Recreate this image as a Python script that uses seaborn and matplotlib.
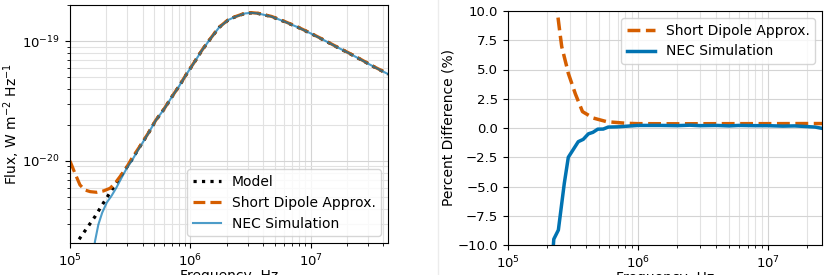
import numpy as np
import pandas as pd
import matplotlib
matplotlib.use("Agg")
import matplotlib.pyplot as plt
from matplotlib.lines import Line2D
import seaborn as sns

# ---------------- Left panel data (flux spectra) ----------------
freq_model = [1.0e5, 1.17e5, 1.38e5, 1.61e5, 1.85e5, 2.15e5, 2.52e5, 2.86e5, 3.25e5,
              3.81e5, 4.47e5, 5.14e5, 6.03e5, 6.98e5, 8.07e5, 9.29e5, 1.08e6, 1.25e6,
              1.47e6, 1.73e6, 2.06e6, 2.34e6, 2.83e6, 3.20e6, 3.65e6, 4.72e6, 6.08e6,
              7.85e6, 9.95e6, 1.28e7, 1.63e7, 2.04e7, 2.64e7, 3.33e7, 4.37e7]
flux_model = [1.69e-21, 2.17e-21, 2.75e-21, 3.43e-21, 4.30e-21, 5.45e-21, 6.95e-21,
              8.41e-21, 1.02e-20, 1.32e-20, 1.70e-20, 2.17e-20, 2.70e-20, 3.40e-20,
              4.22e-20, 5.31e-20, 6.68e-20, 8.41e-20, 1.05e-19, 1.30e-19, 1.50e-19,
              1.59e-19, 1.70e-19, 1.72e-19, 1.70e-19, 1.60e-19, 1.45e-19, 1.30e-19,
              1.16e-19, 1.02e-19, 8.96e-20, 7.99e-20, 6.95e-20, 6.11e-20, 5.31e-20]

freq_dipole = [1.0e5, 1.10e5, 1.21e5, 1.33e5, 1.47e5, 1.67e5, 1.89e5, 2.15e5, 2.36e5,
               2.60e5, 2.96e5, 3.25e5, 3.81e5, 4.47e5, 5.14e5, 6.03e5, 6.98e5, 8.07e5,
               9.29e5, 1.08e6, 1.25e6, 1.47e6, 1.73e6, 2.06e6, 2.34e6, 2.83e6, 3.20e6,
               3.65e6, 4.72e6, 6.08e6, 7.85e6, 9.95e6, 1.28e7, 1.63e7, 2.04e7, 2.64e7,
               3.33e7, 4.37e7]
flux_dipole = [1.0e-20, 7.89e-21, 6.31e-21, 5.73e-21, 5.55e-21, 5.48e-21, 5.62e-21,
               5.92e-21, 6.50e-21, 7.40e-21, 8.90e-21, 1.045e-20, 1.33e-20, 1.71e-20,
               2.18e-20, 2.71e-20, 3.41e-20, 4.23e-20, 5.33e-20, 6.70e-20, 8.44e-20,
               1.054e-19, 1.305e-19, 1.506e-19, 1.596e-19, 1.707e-19, 1.727e-19,
               1.707e-19, 1.606e-19, 1.456e-19, 1.305e-19, 1.165e-19, 1.024e-19,
               8.99e-20, 8.02e-20, 6.98e-20, 6.13e-20, 5.33e-20]

freq_nec = [1.55e5, 1.61e5, 1.72e5, 1.85e5, 2.02e5, 2.22e5, 2.44e5, 2.69e5, 2.96e5,
            3.25e5, 3.81e5, 4.47e5, 5.14e5, 6.03e5, 6.98e5, 8.07e5, 9.29e5, 1.08e6,
            1.25e6, 1.47e6, 1.73e6, 2.06e6, 2.34e6, 2.83e6, 3.20e6, 3.65e6, 4.72e6,
            6.08e6, 7.85e6, 9.95e6, 1.28e7, 1.63e7, 2.04e7, 2.64e7, 3.33e7, 4.37e7]
flux_nec = [1.5e-21, 2.12e-21, 2.95e-21, 3.70e-21, 4.50e-21, 5.15e-21, 6.05e-21,
            7.30e-21, 8.70e-21, 1.0e-20, 1.31e-20, 1.70e-20, 2.17e-20, 2.70e-20,
            3.40e-20, 4.22e-20, 5.31e-20, 6.68e-20, 8.41e-20, 1.05e-19, 1.30e-19,
            1.50e-19, 1.59e-19, 1.70e-19, 1.72e-19, 1.70e-19, 1.60e-19, 1.45e-19,
            1.30e-19, 1.16e-19, 1.02e-19, 8.96e-20, 7.99e-20, 6.95e-20, 6.11e-20,
            5.31e-20]

# ---------------- Right panel data (percent difference) ----------------
freq_pct_dipole = [2.33e5, 2.51e5, 2.59e5, 2.83e5, 2.91e5, 3.30e5, 3.74e5, 4.53e5,
                   5.74e5, 8.18e5, 1.0e6, 2.0e6, 5.0e6, 1.0e7, 2.0e7, 2.6e7]
pct_dipole = [11.0, 8.1, 6.95, 5.24, 4.67, 2.9, 1.4, 0.85, 0.54, 0.40, 0.37, 0.36,
              0.37, 0.37, 0.38, 0.38]

freq_pct_nec = [2.20e5, 2.25e5, 2.44e5, 2.71e5, 2.91e5, 3.47e5, 3.79e5, 4.15e5,
                4.50e5, 4.90e5, 5.40e5, 5.90e5, 7.0e5, 1.0e6, 1.5e6, 2.0e6, 2.5e6,
                3.0e6, 4.0e6, 5.0e6, 6.0e6, 8.0e6, 1.0e7, 1.3e7, 1.6e7, 2.0e7,
                2.3e7, 2.6e7]
pct_nec = [-11.0, -9.5, -8.72, -4.73, -2.5, -1.17, -0.97, -0.5, -0.37, -0.1, -0.09,
           0.08, 0.1, 0.22, 0.22, 0.2, 0.24, 0.2, 0.22, 0.18, 0.22, 0.2, 0.2, 0.16,
           0.18, 0.12, 0.08, -0.03]

ORANGE = "#d55e00"
BLUE = "#0173b2"

plt.rcParams["font.family"] = ["DejaVu Sans"]
fig = plt.figure(figsize=(8.3, 2.75), dpi=100)
axL = fig.add_axes([70 / 830, 32 / 275, 318 / 830, 238 / 275])
axR = fig.add_axes([508 / 830, 30 / 275, 314 / 830, 234 / 275])

# Left panel
dfm = pd.DataFrame({"f": freq_model, "v": flux_model})
dfd = pd.DataFrame({"f": freq_dipole, "v": flux_dipole})
dfn = pd.DataFrame({"f": freq_nec, "v": flux_nec})
sns.lineplot(data=dfm, x="f", y="v", ax=axL, color="black", linestyle=":", lw=2.3,
             label="Model")
sns.lineplot(data=dfd, x="f", y="v", ax=axL, color=ORANGE, linestyle="--", lw=2.3,
             label="Short Dipole Approx.")
sns.lineplot(data=dfn, x="f", y="v", ax=axL, color=BLUE, alpha=0.7, lw=1.5,
             label="NEC Simulation")
axL.set_xscale("log")
axL.set_yscale("log")
axL.set_xlim(1e5, 4.37e7)
axL.set_ylim(2.07e-21, 2.0e-19)
axL.set_xlabel("Frequency, Hz", fontsize=10, labelpad=0)
axL.set_ylabel("Flux, W m$^{-2}$ Hz$^{-1}$", fontsize=10, labelpad=0)
axL.legend(loc="lower right", fontsize=10, framealpha=0.8)

# Right panel
dfpd = pd.DataFrame({"f": freq_pct_dipole, "v": pct_dipole})
dfpn = pd.DataFrame({"f": freq_pct_nec, "v": pct_nec})
sns.lineplot(data=dfpd, x="f", y="v", ax=axR, color=ORANGE, linestyle="--", lw=2.5,
             label="Short Dipole Approx.")
sns.lineplot(data=dfpn, x="f", y="v", ax=axR, color=BLUE, lw=2.5,
             label="NEC Simulation")
axR.set_xscale("log")
axR.set_xlim(1e5, 2.6e7)
axR.set_ylim(-10, 10)
axR.set_yticks(np.arange(-10, 10.1, 2.5))
axR.set_xlabel("Frequency, Hz", fontsize=10, labelpad=0)
axR.set_ylabel("Percent Difference (%)", fontsize=10, labelpad=2)
axR.legend(loc="upper right", fontsize=10, framealpha=0.8)

for ax in (axL, axR):
    ax.grid(True, which="major", color="#d4d4d4", lw=0.8)
    ax.grid(True, which="minor", color="#e2e2e2", lw=0.8)
    ax.tick_params(labelsize=9.5)
    ax.set_axisbelow(True)

fig.add_artist(Line2D([438 / 830, 438 / 830], [0, 1], transform=fig.transFigure,
                      color="#ececec", lw=1))

fig.savefig("out.png", dpi=100)
